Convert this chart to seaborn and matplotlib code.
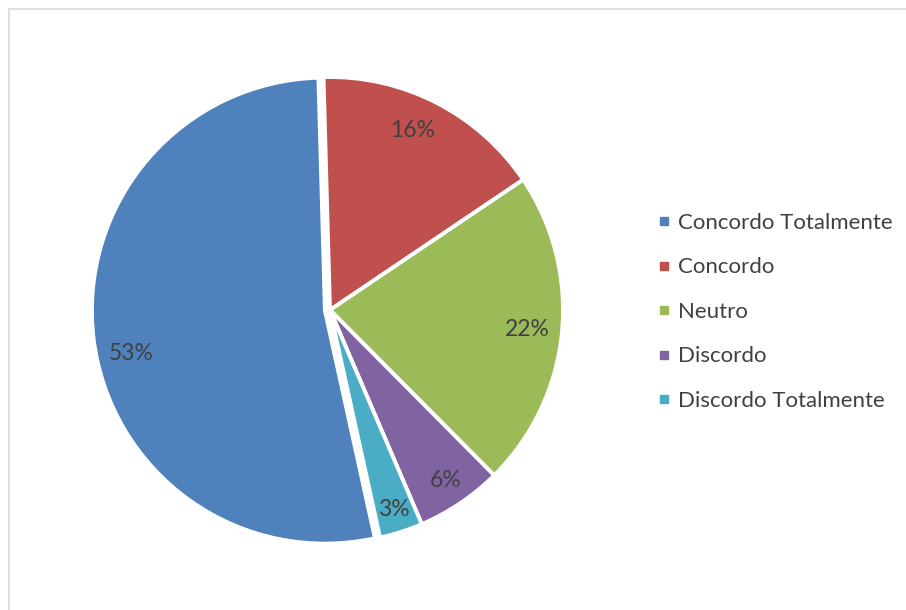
import matplotlib
matplotlib.use("Agg")
import matplotlib.pyplot as plt
from matplotlib.lines import Line2D
from matplotlib.patches import Rectangle
import numpy as np
import seaborn as sns

# Survey answers (share of respondents, %)
categories = ["Concordo Totalmente", "Concordo", "Neutro", "Discordo", "Discordo Totalmente"]
shares = [53, 16, 22, 6, 3]
pct_labels = ["53%", "16%", "22%", "6%", "3%"]
colors = ["#4F81BD", "#C0504D", "#9BBB59", "#8064A2", "#4BACC6"]

sns.set_theme(style="white")
plt.rcParams["font.family"] = ["Lato", "DejaVu Sans"]
text_color = "#404040"

W, H = 906, 610
fig = plt.figure(figsize=(W / 100, H / 100), dpi=100)
fig.patch.set_facecolor("white")

# light chart-area frame
fig.patches.append(Rectangle((9 / W, -0.1), 1.2, (H - 9) / H + 0.1,
                             transform=fig.transFigure, fill=False,
                             edgecolor="#D9D9D9", linewidth=1.2))

cx, cy, r = 330, 310, 233
side = r * 2.5
ax = fig.add_axes([(cx - side / 2) / W, (H - cy - side / 2) / H, side / W, side / H])

# first slice ends just left of 12 o'clock, slices run clockwise
total = sum(shares)
start = 91.6 + shares[0] / total * 360
explode = [0.022, 0, 0, 0, 0]
wedges, _ = ax.pie(
    shares,
    colors=colors,
    startangle=start,
    counterclock=False,
    explode=explode,
    wedgeprops=dict(edgecolor="white", linewidth=2.8),
)

# percentage labels placed inside each wedge (radius, angular nudge in degrees)
label_dist = [0.85, 0.85, 0.85, 0.885, 0.90]
label_turn = [5.5, 2.5, 0, 0, 0]
acc = 0.0
for val, lab, d, t, ex in zip(shares, pct_labels, label_dist, label_turn, explode):
    mid = np.deg2rad(start - (acc + val / 2) / total * 360 + t)
    acc += val
    ax.text((d + ex) * np.cos(mid), (d + ex) * np.sin(mid), lab,
            ha="center", va="center", fontsize=16.5, color=text_color)

ax.set_aspect("equal")
ax.axis("off")

handles = [Line2D([0], [0], marker="s", linestyle="none", markersize=5.8,
                  markerfacecolor=c, markeredgecolor=c) for c in colors]
leg = fig.legend(handles, categories, loc="upper left",
                 bbox_to_anchor=(658 / W, 1 - 213 / H),
                 frameon=False, fontsize=16, labelcolor=text_color,
                 handlelength=0.5, handletextpad=0.4, labelspacing=1.1,
                 borderaxespad=0, borderpad=0)

fig.savefig("out.png", dpi=100, facecolor="white")
